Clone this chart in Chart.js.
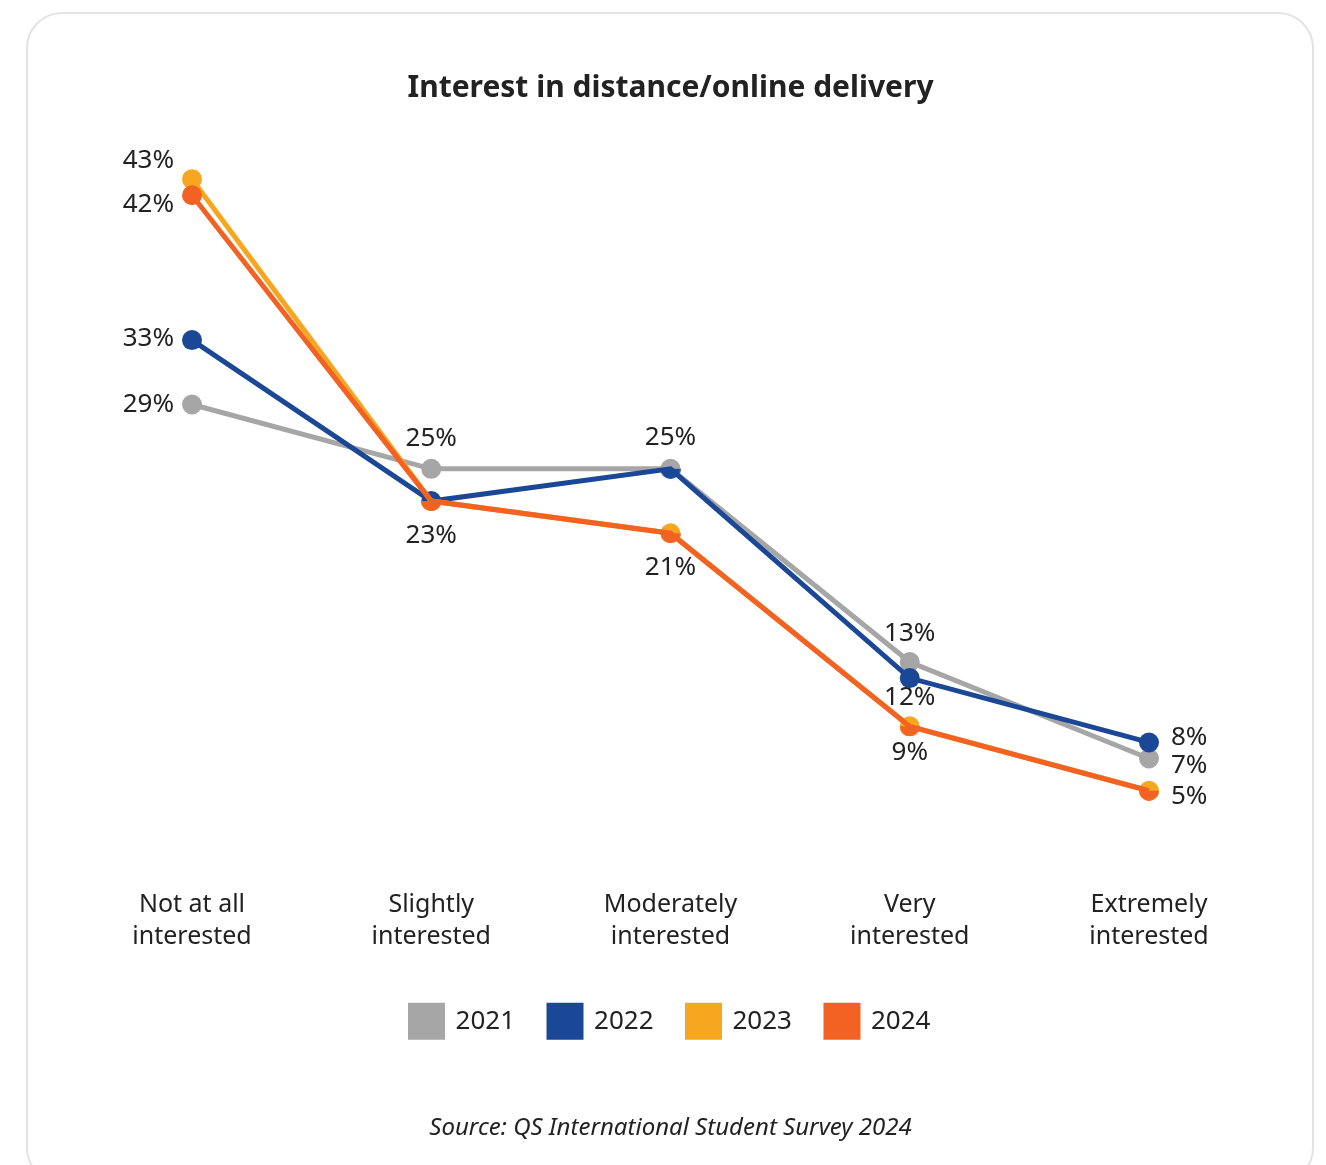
<!DOCTYPE html>
<html>
<head>
<meta charset="utf-8">
<script src="https://cdn.jsdelivr.net/npm/chart.js@4.4.1/dist/chart.umd.min.js"></script>
<style>
  html, body { margin: 0; background: #fff; }
  #card {
    position: absolute; left: 26px; top: 12px; width: 1288px; height: 1172px;
    border: 2px solid #e3e3e3; border-radius: 36px; box-sizing: border-box;
  }
  #wrap { position: absolute; left: 0; top: 0; width: 1326px; height: 1165px; }
</style>
</head>
<body>
<div id="card"></div>
<div id="wrap"><canvas id="chart"></canvas></div>
<script>
const categories = [
  ["Not at all", "interested"],
  ["Slightly", "interested"],
  ["Moderately", "interested"],
  ["Very", "interested"],
  ["Extremely", "interested"]
];
const years = ["2021", "2022", "2023", "2024"];
const values2021 = [29, 25, 25, 13, 7];
const values2022 = [33, 23, 25, 12, 8];
const values2023 = [43, 23, 21, 9, 5];
const values2024 = [42, 23, 21, 9, 5];

const colors = {
  "2021": "#a6a6a6",
  "2022": "#1b4896",
  "2023": "#f7a71f",
  "2024": "#f26323"
};

// label offsets from each point: [dx, dy]
const labelOffsets = {
  "2021": [[-18, 0], [0, -30], [0, -31], [0, -28], [22, 7]],
  "2022": [[-18, -2], [0, 35], [0, -31], [0, 20], [22, -5]],
  "2023": [[-18, -19], [0, 35], [0, 34], [0, 26], [22, 6]],
  "2024": [[-18, 9], [0, 35], [0, 34], [0, 26], [22, 6]]
};

const FONT = "'Noto Sans', 'Open Sans', sans-serif";
const TEXT = "#222222";
const R = 10;

function halfDot(color) {
  const c = document.createElement("canvas");
  c.width = R * 2;
  c.height = R * 2;
  const g = c.getContext("2d");
  g.fillStyle = color;
  g.beginPath();
  g.arc(R, R, R, 0, Math.PI);
  g.closePath();
  g.fill();
  return c;
}

// later years first so they are drawn on top
const seriesByYear = { "2021": values2021, "2022": values2022, "2023": values2023, "2024": values2024 };
const drawOrder = years.slice().reverse();

// a point coincides with an earlier year's point at the same value
function isDup(year, i) {
  const idx = years.indexOf(year);
  for (let k = 0; k < idx; k++) {
    if (seriesByYear[years[k]][i] === seriesByYear[year][i]) return true;
  }
  return false;
}

const datasets = drawOrder.map((year) => {
  const half = halfDot(colors[year]);
  return {
    label: year,
    data: seriesByYear[year],
    borderColor: colors[year],
    backgroundColor: colors[year],
    borderWidth: 5,
    pointRadius: R,
    pointBorderWidth: 0,
    pointBackgroundColor: colors[year],
    pointStyle: (ctx) => (ctx.dataIndex !== undefined && isDup(year, ctx.dataIndex) ? half : "circle"),
    tension: 0
  };
});

const valueLabels = {
  id: "valueLabels",
  afterDatasetsDraw(chart) {
    const ctx = chart.ctx;
    ctx.save();
    ctx.font = "26px " + FONT;
    ctx.fillStyle = TEXT;
    ctx.textBaseline = "middle";
    chart.data.datasets.forEach((ds, di) => {
      const meta = chart.getDatasetMeta(di);
      const year = ds.label;
      meta.data.forEach((pt, i) => {
        if (isDup(year, i)) return;
        const [dx, dy] = labelOffsets[year][i];
        ctx.textAlign = dx < 0 ? "right" : dx > 0 ? "left" : "center";
        ctx.fillText(ds.data[i] + "%", pt.x + dx, pt.y + dy);
      });
    });
    ctx.restore();
  }
};

new Chart(document.getElementById("chart"), {
  type: "line",
  data: { labels: categories, datasets: datasets },
  plugins: [valueLabels],
  options: {
    responsive: true,
    maintainAspectRatio: false,
    animation: false,
    events: [],
    layout: { padding: { left: 192, right: 177, top: 0, bottom: 0 } },
    scales: {
      x: {
        offset: false,
        grid: { display: false, drawTicks: false },
        border: { display: false },
        ticks: {
          color: TEXT,
          font: { family: FONT, size: 25, lineHeight: 1.28 },
          padding: 18,
          maxRotation: 0,
          autoSkip: false
        }
      },
      y: {
        display: false,
        min: 0,
        max: 45
      }
    },
    plugins: {
      tooltip: { enabled: false },
      title: {
        display: true,
        text: "Interest in distance/online delivery",
        color: TEXT,
        font: { family: FONT, size: 30, weight: "bold" },
        padding: { top: 70, bottom: 41 }
      },
      legend: {
        position: "bottom",
        reverse: true,
        labels: {
          boxWidth: 32,
          boxHeight: 32,
          color: TEXT,
          font: { family: FONT, size: 26 },
          padding: 34
        }
      },
      subtitle: {
        display: true,
        position: "bottom",
        text: "Source: QS International Student Survey 2024",
        color: TEXT,
        font: { family: FONT, size: 24, style: "italic" },
        padding: { top: 67, bottom: 22 }
      }
    }
  }
});
</script>
</body>
</html>
